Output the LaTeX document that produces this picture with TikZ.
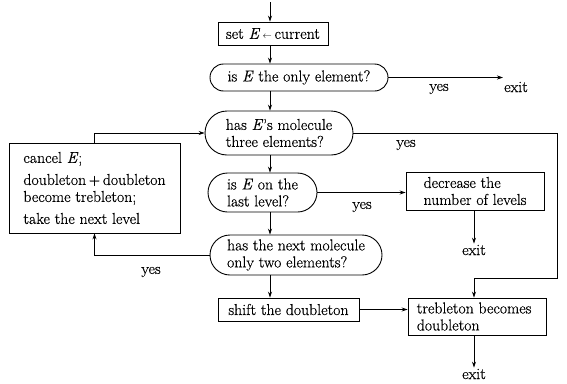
\documentclass[tikz,border=0pt]{standalone}
\usepackage{fontspec}
\setmainfont{Latin Modern Roman}[FakeBold=0.4]
\usetikzlibrary{arrows.meta}
\begin{document}
\begin{tikzpicture}[x=1pt,y=-1pt,
  font=\fontsize{15.8}{17}\selectfont,
  box/.style={draw, line width=0.9pt, inner sep=0pt, align=left},
  term/.style={draw, line width=0.9pt, inner sep=0pt, align=left},
  arr/.style={-{Stealth[length=6pt,width=4pt]}, line width=0.8pt},
  ln/.style={line width=0.8pt},
  lbl/.style={inner sep=1pt}]
\useasboundingbox (0,0) rectangle (567,383);
% nodes
\node[box, minimum width=110pt, minimum height=23pt] (set) at (273,33.5) {set \textit{E}\,{\small$\leftarrow$}\,current};
\node[term, rounded corners=13.5pt, minimum width=178pt, minimum height=27pt] (only) at (299,77.5) {is \textit{E} the only element?};
\node[term, rounded corners=22pt, minimum width=148pt, minimum height=44pt] (three) at (279,133) {has \textit{E}'s molecule\\three elements?};
\node[term, rounded corners=19.5pt, minimum width=109pt, minimum height=39pt] (last) at (262.5,192.5) {is \textit{E} on the\\last level?};
\node[term, rounded corners=20pt, minimum width=172pt, minimum height=40pt] (next) at (296,255) {has the next molecule\\only two elements?};
\node[box, minimum width=141pt, minimum height=23pt] (shift) at (288.5,309.5) {shift the doubleton};
\node[box, minimum width=171pt, minimum height=90pt] (cancel) at (94.5,188) {cancel \textit{E};\\[5pt]doubleton\,+\,doubleton\\become trebleton;\\[5pt]take the next level};
\node[box, minimum width=138pt, minimum height=38pt] (decr) at (475,191) {decrease the\\number of levels};
\node[box, minimum width=138pt, minimum height=37pt] (treb) at (477,316.5) {trebleton becomes\\doubleton\hphantom{ becomes}};
% labels
\node[lbl] (yes1) at (439,89) {yes};
\node[lbl] (exit1) at (516,87) {exit};
\node[lbl] (yes2) at (406,145) {yes};
\node[lbl] (yes3) at (362,207) {yes};
\node[lbl] (exit2) at (474,250) {exit};
\node[lbl] (yes4) at (151,272) {yes};
\node[lbl] (exit3) at (474,374) {exit};
% coordinates
\coordinate (top) at (270,2);
\coordinate (r1) at (557,131);
\coordinate (r2) at (557,278);
\coordinate (r3) at (474,278);
% connectors
\draw[arr] (top) -- (set.north -| top);
\draw[arr] (set.south -| top) -- (only.north -| top);
\draw[arr] (only.east) -- (only.east -| exit1.west);
\draw[arr] (only.south -| top) -- (three.north -| top);
\draw[ln] (three.east) -- (three.east -| r1) -- (r2) -- (r3);
\draw[arr] (r3) -- (treb.north -| r3);
\draw[arr] (three.south -| top) -- (last.north -| top);
\draw[arr] (last.east) -- (last.east -| decr.west);
\draw[arr] (decr.south -| r3) -- (exit2.north);
\draw[arr] (last.south -| top) -- (next.north -| top);
\draw[arr] (next.west) -| (cancel.south);
\draw[arr] (cancel.north) |- (three.west);
\draw[arr] (next.south -| top) -- (shift.north -| top);
\draw[arr] (shift.east) -- (shift.east -| treb.west);
\draw[arr] (treb.south -| r3) -- (exit3.north);
\end{tikzpicture}
\end{document}
